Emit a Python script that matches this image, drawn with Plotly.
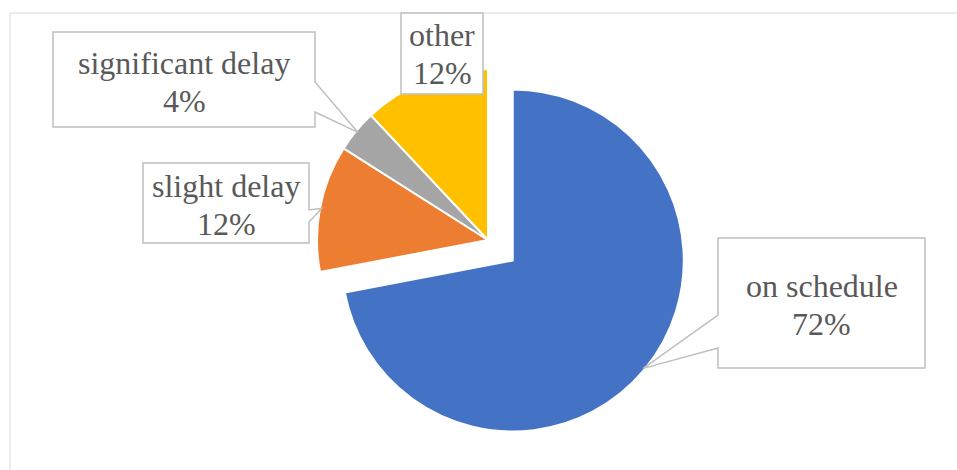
import math
import plotly.graph_objects as go

# ---- data ----
labels = ["on schedule", "slight delay", "significant delay", "other"]
values = [72, 12, 4, 12]
colors = ["#4472C4", "#ED7D31", "#A5A5A5", "#FFC000"]
pulls = [0.188, 0, 0, 0]

# ---- layout geometry (pixels) ----
W, H = 957, 470
CX, CY, R = 488, 240, 171
maxpull = max(pulls)
side = 2 * R * (1 + maxpull)
dom_x = [(CX - side / 2) / W, (CX + side / 2) / W]
dom_y = [1 - (CY + side / 2) / H, 1 - (CY - side / 2) / H]


def px(x):
    return x / W


def py(y):
    return 1 - y / H


fig = go.Figure(go.Pie(
    labels=labels, values=values, sort=False, direction="clockwise", rotation=0,
    pull=pulls, textinfo="none", hoverinfo="label+percent",
    marker=dict(colors=colors, line=dict(color="white", width=2)),
    domain=dict(x=dom_x, y=dom_y), showlegend=False,
))

# callout boxes: (x0, y0, x1, y1), wedge side, wedge base (a, b), text centre shift
boxes = {
    "on schedule": ((718, 238, 925, 368), "left", (315, 348), 2),
    "slight delay": ((143, 163, 309, 243), "right", (210, 222), 2),
    "significant delay": ((53, 32, 315, 127), "right", (82, 112), 2),
    "other": ((401, 13, 483, 94), None, None, 0),
}

FONT = dict(family="Liberation Serif", size=32, color="#595959")
LINE = 38

total = sum(values)
cum = 0
shapes = []
annotations = []
for lab, val, pl in zip(labels, values, pulls):
    mid = (cum + val / 2) / total * 2 * math.pi
    cum += val
    sx, sy = math.sin(mid), -math.cos(mid)
    ccx, ccy = CX + pl * R * sx, CY + pl * R * sy
    tip = (ccx + 0.99 * R * sx, ccy + 0.99 * R * sy)
    (x0, y0, x1, y1), wside, base, shift = boxes[lab]
    pts = [(x0, y0), (x1, y0)]
    if wside == "right":
        pts += [(x1, base[0]), tip, (x1, base[1])]
    pts += [(x1, y1), (x0, y1)]
    if wside == "left":
        pts += [(x0, base[1]), tip, (x0, base[0])]
    path = "M " + " L ".join(f"{px(a):.5f},{py(b):.5f}" for a, b in pts) + " Z"
    shapes.append(dict(type="path", xref="paper", yref="paper", path=path,
                       fillcolor="white", line=dict(color="#BFBFBF", width=1.5),
                       layer="above"))
    pct = round(val / total * 100)
    cxt = (x0 + x1) / 2
    cyt = (y0 + y1) / 2 + shift
    for txt, dy in ((lab, -LINE / 2), (f"{pct}%", LINE / 2)):
        annotations.append(dict(
            x=px(cxt), y=py(cyt + dy), xref="paper", yref="paper",
            xanchor="center", yanchor="middle", showarrow=False,
            text=txt, align="center", font=FONT,
        ))

# chart area border
shapes.append(dict(type="rect", xref="paper", yref="paper",
                   x0=px(10), x1=px(1000), y0=py(13), y1=py(520),
                   line=dict(color="#D9D9D9", width=1), fillcolor="rgba(0,0,0,0)",
                   layer="below"))

fig.update_layout(
    width=W, height=H, margin=dict(l=0, r=0, t=0, b=0),
    paper_bgcolor="white", plot_bgcolor="white",
    shapes=shapes, annotations=annotations,
)

fig.write_html("out.html", config={"displayModeBar": False},
               post_script="document.body.style.margin='0';")
